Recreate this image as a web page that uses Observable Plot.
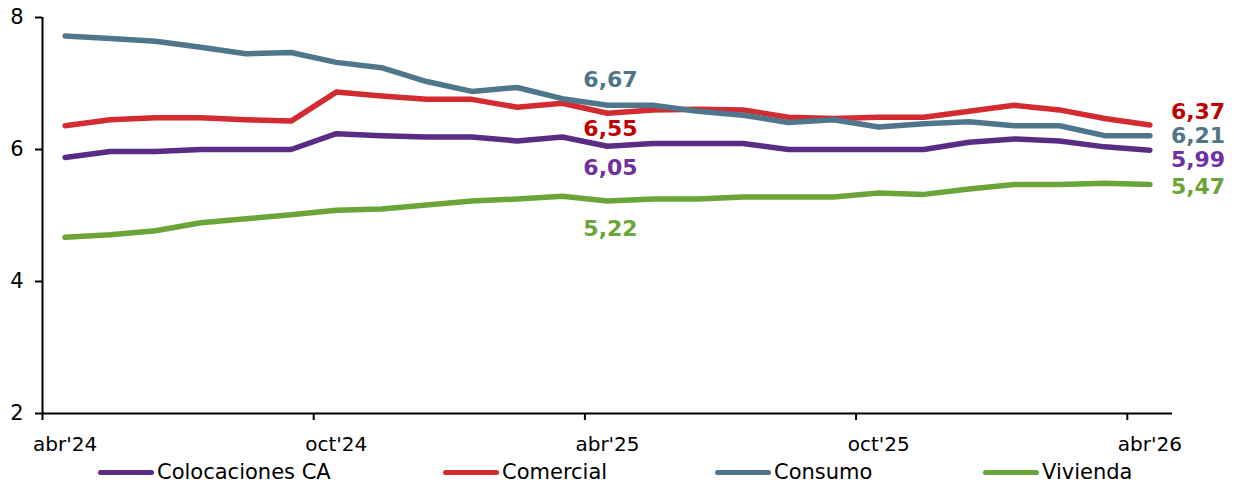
<!DOCTYPE html>
<html>
<head>
<meta charset="utf-8">
<script src="https://cdn.jsdelivr.net/npm/d3@7"></script>
<script src="https://cdn.jsdelivr.net/npm/@observablehq/plot@0.6"></script>
<style>
  html, body { margin: 0; padding: 0; background: #fff; }
  body { font-family: "DejaVu Sans", Verdana, sans-serif; }
  #chart svg { display: block; }
  #legend { position: relative; width: 1234px; height: 35px; font-size: 21px; color: #000; }
  #legend .item { position: absolute; top: 7px; height: 26px; display: flex; align-items: center; white-space: nowrap; }
  #legend .sw { width: 56px; height: 5px; border-radius: 3px; margin-right: 3px; }
</style>
</head>
<body>
<div id="chart"></div>
<div id="legend"></div>
<script>
// Monthly interest rates (%), April 2024 to April 2026
const months = ["abr'24","may'24","jun'24","jul'24","ago'24","sep'24","oct'24","nov'24","dic'24",
  "ene'25","feb'25","mar'25","abr'25","may'25","jun'25","jul'25","ago'25","sep'25","oct'25",
  "nov'25","dic'25","ene'26","feb'26","mar'26","abr'26"];
const tickMonths = ["abr'24","oct'24","abr'25","oct'25","abr'26"];

const seriesNames = ["Colocaciones CA", "Comercial", "Consumo", "Vivienda"];
const colocaciones = [5.88,5.97,5.97,6.00,6.00,6.00,6.24,6.21,6.19,6.19,6.13,6.19,6.05,6.09,6.09,6.09,6.00,6.00,6.00,6.00,6.11,6.16,6.13,6.04,5.99];
const comercial    = [6.36,6.45,6.48,6.48,6.45,6.43,6.87,6.81,6.76,6.76,6.64,6.70,6.55,6.60,6.61,6.60,6.49,6.47,6.49,6.49,6.58,6.67,6.60,6.47,6.37];
const consumo      = [7.72,7.68,7.64,7.55,7.45,7.47,7.32,7.24,7.03,6.88,6.94,6.77,6.67,6.67,6.58,6.52,6.41,6.45,6.34,6.39,6.42,6.36,6.36,6.21,6.21];
const vivienda     = [4.67,4.71,4.77,4.89,4.95,5.01,5.08,5.10,5.16,5.22,5.25,5.29,5.22,5.25,5.25,5.28,5.28,5.28,5.34,5.32,5.40,5.47,5.47,5.49,5.47];
const yTicks = [2, 4, 6, 8];

// Months whose values are annotated
const midMonth = "abr'25";
const lastMonth = "abr'26";

const lineColors  = ["#5B2C83", "#D22B31", "#50768C", "#6BA539"];
const labelColors = ["#7030A0", "#C00000", "#50758B", "#6BA539"];

const valuesBySeries = [colocaciones, comercial, consumo, vivienda];
const rows = seriesNames.flatMap((name, s) =>
  valuesBySeries[s].map((v, i) => ({ serie: name, i, v })));

const fmt = v => v.toFixed(2).replace(".", ",");
const iMid = months.indexOf(midMonth);
const iLast = months.indexOf(lastMonth);
const pick = (s, i) => ({ serie: seriesNames[s], i, v: valuesBySeries[s][i] });

// Vertical offsets (px) keep the annotations clear of the lines
const midOffsets = [22, 15.5, -25, 28];
const endOffsets = [10, -13, 0, 2];

const labelFont = { fontSize: 22, fontWeight: "bold", fontFamily: "DejaVu Sans, Verdana, sans-serif" };

const midLabels = seriesNames.map((_, s) => Plot.text([pick(s, iMid)], {
  x: "i", y: "v", text: d => fmt(d.v), fill: labelColors[s],
  dx: 3, dy: midOffsets[s], textAnchor: "middle", ...labelFont
}));
const endLabels = seriesNames.map((_, s) => Plot.text([pick(s, iLast)], {
  x: "i", y: "v", text: d => fmt(d.v), fill: labelColors[s],
  dx: 21, dy: endOffsets[s], textAnchor: "start", ...labelFont
}));

const labelIdx = tickMonths.map(m => months.indexOf(m));
const boundaryIdx = labelIdx.map(i => i - 0.5);

const chart = Plot.plot({
  width: 1234,
  height: 452,
  marginTop: 17,
  marginBottom: 39,
  marginLeft: 42,
  marginRight: 62,
  style: { fontFamily: "DejaVu Sans, Verdana, sans-serif", fontSize: "20px", color: "#000", background: "#fff", overflow: "visible" },
  x: { type: "linear", domain: [-0.5, months.length - 0.5], axis: null },
  y: { domain: [2, 8], axis: null },
  color: { domain: seriesNames, range: lineColors },
  marks: [
    Plot.axisY(yTicks, { label: null, tickSize: 7, tickPadding: 12, strokeWidth: 2, stroke: "#000", tickFormat: d => String(d), fontSize: 21 }),
    Plot.axisX(boundaryIdx, { label: null, tickSize: 7, strokeWidth: 2, stroke: "#000", tickFormat: () => "" }),
    Plot.axisX(labelIdx, { label: null, tickSize: 0, tickPadding: 23, tickFormat: i => months[i], fontSize: 20 }),
    Plot.ruleX([-0.5], { stroke: "#000", strokeWidth: 2 }),
    Plot.ruleY([2], { stroke: "#000", strokeWidth: 2 }),
    Plot.line(rows, { x: "i", y: "v", z: "serie", stroke: "serie", strokeWidth: 5.5, strokeLinecap: "round", strokeLinejoin: "round" }),
    ...midLabels,
    ...endLabels
  ]
});
document.getElementById("chart").appendChild(chart);

// Legend row beneath the chart
const legendLeft = [98, 443, 715, 983];
const legend = document.getElementById("legend");
seriesNames.forEach((name, s) => {
  const item = document.createElement("div");
  item.className = "item";
  item.style.left = legendLeft[s] + "px";
  const sw = document.createElement("span");
  sw.className = "sw";
  sw.style.background = lineColors[s];
  const label = document.createElement("span");
  label.textContent = name;
  item.appendChild(sw);
  item.appendChild(label);
  legend.appendChild(item);
});
</script>
</body>
</html>
